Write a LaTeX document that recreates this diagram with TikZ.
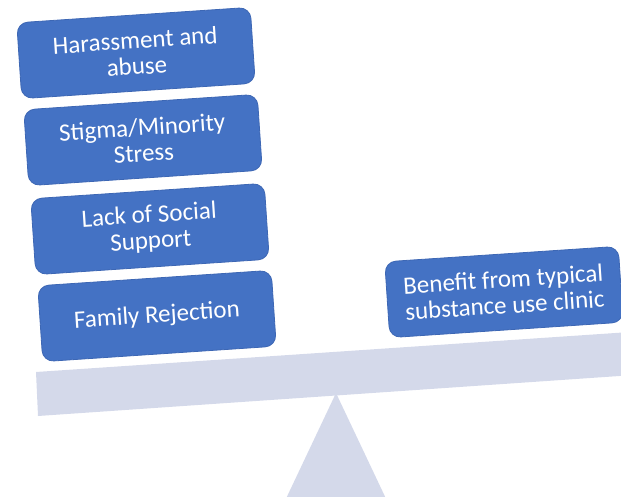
\documentclass[tikz,border=0pt]{standalone}
\usepackage{fontspec}
\setmainfont{Carlito}
\definecolor{boxblue}{HTML}{4472C4}
\definecolor{boxedge}{HTML}{3D67B4}
\definecolor{beamgray}{HTML}{D4D9EA}
\begin{document}
\begin{tikzpicture}[x=1pt,y=-1pt,
  factor/.style={fill=boxblue, draw=boxedge, line width=0.8pt, rounded corners=11pt,
    minimum width=234pt, minimum height=76pt, inner sep=0pt,
    text=white, font=\fontsize{25}{26}\selectfont, align=center, rotate=3.8},
  beam/.style={fill=beamgray}
]
\useasboundingbox (0,0) rectangle (621,497);
\begin{scope}
  \clip (0,0) rectangle (621,497);
  % fulcrum
  \fill[beam] (336,393) -- (389,505) -- (283,505) -- cycle;
  % tilted plank
  \fill[beam] (36,372) -- (660,330) -- (663,373) -- (38,416) -- cycle;
\end{scope}
% weights on the left end
\node[factor] (harass) at (136,53) {Harassment and\\abuse};
\node[factor] (stigma) at (143,140) {Stigma/Minority\\Stress};
\node[factor] (support) at (150,229) {Lack of Social\\Support};
\node[factor] (family) at (157,316) {Family Rejection};
% weight on the right end
\node[factor] (benefit) at (504,292) {Benefit from typical\\substance use clinic};
\end{tikzpicture}
\end{document}
